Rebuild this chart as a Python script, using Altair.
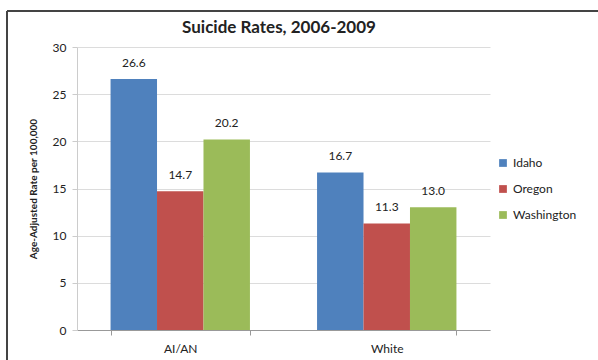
import altair as alt
import pandas as pd

groups = ["AI/AN", "White"]
states = ["Idaho", "Oregon", "Washington"]
idaho = [26.6, 16.7]
oregon = [14.7, 11.3]
washington = [20.2, 13.0]
colors = ["#4F81BD", "#C0504D", "#9BBB59"]
chart_title = "Suicide Rates, 2006-2009"

rows = []
for i, g in enumerate(groups):
    for s, vals in zip(states, [idaho, oregon, washington]):
        rows.append({"group": g, "state": s, "rate": vals[i], "label": f"{vals[i]:.1f}"})
df = pd.DataFrame(rows)

FONT = "Lato"

x = alt.X("group:N", sort=groups, title=None,
          scale=alt.Scale(paddingInner=0.325, paddingOuter=0.1625),
          axis=alt.Axis(labelAngle=0, labelFontSize=12, labelColor="#222", labelPadding=8,
                        domainColor="#999", tickColor="#999", tickBand="extent", tickExtra=False,
                        tickSize=5, labelFont=FONT, grid=False))
xo = alt.XOffset("state:N", sort=states, scale=alt.Scale(paddingInner=0, paddingOuter=0))
y = alt.Y("rate:Q", title="Age-Adjusted Rate per 100,000",
          scale=alt.Scale(domain=[0, 30], nice=False),
          axis=alt.Axis(values=[0, 5, 10, 15, 20, 25, 30], labelFontSize=12, labelColor="#222",
                        labelFont=FONT, titleFont=FONT, titleFontSize=10, titleFontWeight="bold",
                        titleColor="#222", titlePadding=14, gridColor="#dcdcdc", domainColor="#ccc",
                        tickColor="#ccc", tickSize=5, labelPadding=6))
color = alt.Color("state:N", sort=states, scale=alt.Scale(domain=states, range=colors),
                  legend=alt.Legend(title=None, orient="none", legendX=420, legendY=110,
                                    symbolType="square", symbolSize=60, labelFontSize=12,
                                    labelFont=FONT, labelColor="#222", rowPadding=14,
                                    symbolStrokeWidth=0))

bars = alt.Chart(df).mark_bar(stroke=None).encode(x=x, xOffset=xo, y=y, color=color)
labels = alt.Chart(df).mark_text(dy=-9, baseline="bottom", fontSize=12, font=FONT, color="#222").encode(
    x=x, xOffset=xo, y=y, text="label:N")

title_df = pd.DataFrame({"t": [chart_title]})
title = alt.Chart(title_df).mark_text(fontSize=17, fontWeight="bold", font=FONT, color="#222",
                                      baseline="middle", align="center").encode(
    x=alt.value(202), y=alt.value(-19), text="t:N")

border_top = alt.Chart(df).mark_rule(color="#444", strokeWidth=2).encode(
    x=alt.value(-70), x2=alt.value(530), y=alt.value(-36))
border_left = alt.Chart(df).mark_rule(color="#444", strokeWidth=2).encode(
    x=alt.value(-70), y=alt.value(-36), y2=alt.value(320))

chart = alt.layer(border_top, border_left, bars, labels, title).properties(
    width=413, height=283,
    background="white",
    autosize=alt.AutoSizeParams(type="none"),
    padding={"left": 77, "top": 47, "right": 108, "bottom": 30},
).configure_view(stroke="transparent", strokeWidth=0).configure_axisX(grid=False)

chart.save("out.html", embed_options={"renderer": "svg", "actions": False})
